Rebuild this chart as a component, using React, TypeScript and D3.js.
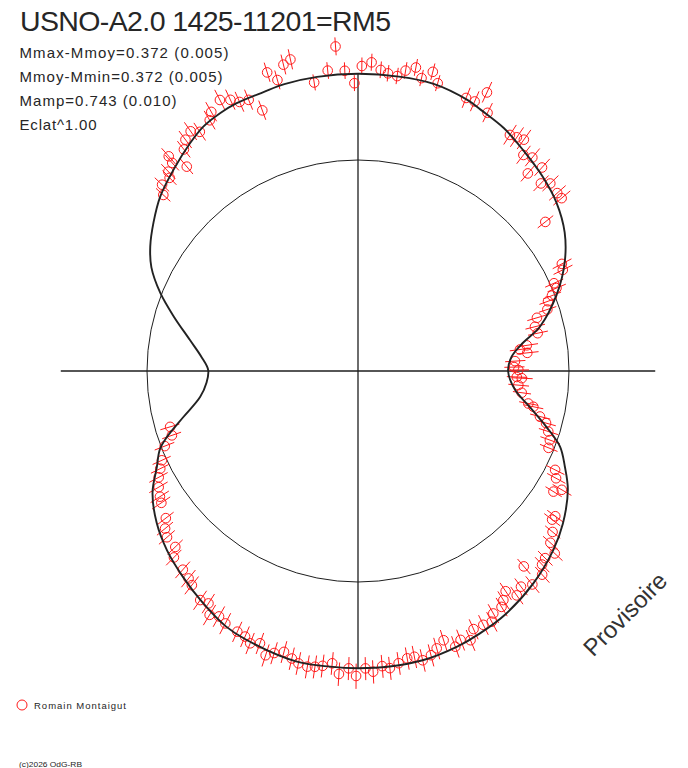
import * as d3 from 'd3'

const W = 688
const H = 768
const CX = 358
const CY = 371
const R_MEAN = 211 // radius of the Mmoy circle, px

// fitted light curve: phase, magnitude relative to Mmoy
const fitPhase = [0.000, 0.015, 0.027, 0.038, 0.059, 0.077, 0.094, 0.112, 0.129, 0.148, 0.164, 0.180, 0.189, 0.209, 0.228, 0.250, 0.272, 0.290, 0.302, 0.318, 0.328, 0.340, 0.351, 0.368, 0.385, 0.400, 0.414, 0.426, 0.440, 0.454, 0.471, 0.486, 0.499, 0.512, 0.526, 0.541, 0.553, 0.560, 0.571, 0.585, 0.603, 0.620, 0.638, 0.656, 0.674, 0.687, 0.717, 0.735, 0.750, 0.767, 0.785, 0.805, 0.819, 0.837, 0.860, 0.882, 0.898, 0.918, 0.931, 0.943, 0.954, 0.967, 0.981]
const fitMag = [0.370, 0.339, 0.251, 0.130, -0.013, -0.110, -0.179, -0.228, -0.260, -0.291, -0.320, -0.340, -0.354, -0.371, -0.372, -0.372, -0.371, -0.368, -0.362, -0.360, -0.354, -0.342, -0.319, -0.280, -0.242, -0.196, -0.150, -0.099, -0.009, 0.100, 0.229, 0.321, 0.372, 0.357, 0.300, 0.169, 0.046, -0.011, -0.060, -0.134, -0.194, -0.235, -0.269, -0.303, -0.336, -0.349, -0.371, -0.371, -0.372, -0.372, -0.369, -0.356, -0.343, -0.324, -0.289, -0.247, -0.208, -0.145, -0.084, -0.024, 0.076, 0.199, 0.313]

// observations (Romain Montaigut): phase, magnitude relative to Mmoy, error
const obsPhase = [0.001, 0.004, 0.010, 0.017, 0.021, 0.024, 0.033, 0.039, 0.046, 0.050, 0.056, 0.059, 0.063, 0.067, 0.073, 0.077, 0.107, 0.112, 0.116, 0.123, 0.127, 0.133, 0.137, 0.141, 0.146, 0.151, 0.155, 0.159, 0.176, 0.181, 0.185, 0.190, 0.207, 0.211, 0.216, 0.220, 0.225, 0.229, 0.234, 0.238, 0.243, 0.248, 0.252, 0.257, 0.261, 0.266, 0.274, 0.284, 0.288, 0.293, 0.297, 0.306, 0.311, 0.316, 0.320, 0.325, 0.332, 0.335, 0.343, 0.347, 0.352, 0.356, 0.361, 0.365, 0.366, 0.371, 0.373, 0.379, 0.383, 0.546, 0.553, 0.559, 0.568, 0.573, 0.578, 0.584, 0.590, 0.594, 0.604, 0.609, 0.614, 0.622, 0.626, 0.635, 0.641, 0.645, 0.654, 0.659, 0.663, 0.668, 0.673, 0.681, 0.686, 0.690, 0.695, 0.700, 0.704, 0.709, 0.714, 0.718, 0.723, 0.727, 0.731, 0.736, 0.740, 0.745, 0.749, 0.754, 0.758, 0.763, 0.767, 0.772, 0.777, 0.781, 0.785, 0.790, 0.794, 0.799, 0.804, 0.808, 0.813, 0.817, 0.823, 0.828, 0.831, 0.837, 0.840, 0.844, 0.848, 0.853, 0.859, 0.862, 0.867, 0.871, 0.875, 0.881, 0.884, 0.890, 0.896, 0.899, 0.912, 0.916, 0.921, 0.926, 0.939, 0.945, 0.951, 0.957, 0.961, 0.968, 0.970, 0.979, 0.986, 0.993, 0.994]
const obsMag = [0.298, 0.327, 0.319, 0.233, 0.278, 0.230, 0.151, 0.158, 0.133, 0.063, 0.045, 0.015, -0.021, -0.019, -0.086, -0.095, -0.137, -0.256, -0.256, -0.262, -0.235, -0.285, -0.229, -0.290, -0.276, -0.325, -0.317, -0.310, -0.341, -0.407, -0.359, -0.359, -0.377, -0.412, -0.381, -0.414, -0.397, -0.373, -0.379, -0.389, -0.414, -0.400, -0.337, -0.384, -0.470, -0.389, -0.352, -0.448, -0.436, -0.389, -0.425, -0.298, -0.354, -0.360, -0.381, -0.397, -0.374, -0.350, -0.333, -0.354, -0.340, -0.314, -0.254, -0.331, -0.303, -0.288, -0.267, -0.269, -0.237, 0.080, 0.075, 0.019, -0.023, -0.048, -0.074, -0.097, -0.115, -0.125, -0.149, -0.180, -0.198, -0.200, -0.235, -0.247, -0.259, -0.272, -0.300, -0.293, -0.328, -0.315, -0.327, -0.335, -0.340, -0.356, -0.343, -0.378, -0.361, -0.347, -0.364, -0.376, -0.382, -0.378, -0.371, -0.358, -0.395, -0.373, -0.400, -0.373, -0.386, -0.368, -0.378, -0.364, -0.351, -0.350, -0.369, -0.358, -0.339, -0.317, -0.354, -0.337, -0.352, -0.318, -0.319, -0.323, -0.298, -0.292, -0.273, -0.248, -0.287, -0.269, -0.290, -0.211, -0.286, -0.256, -0.246, -0.261, -0.218, -0.195, -0.160, -0.162, -0.092, -0.121, -0.071, -0.048, 0.029, 0.037, 0.060, 0.085, 0.128, 0.179, 0.213, 0.266, 0.294, 0.274, 0.308]
const obsErr = [0.07, 0.07, 0.07, 0.07, 0.07, 0.07, 0.06, 0.06, 0.06, 0.05, 0.05, 0.05, 0.05, 0.05, 0.05, 0.05, 0.045, 0.045, 0.045, 0.045, 0.045, 0.045, 0.045, 0.045, 0.045, 0.045, 0.045, 0.045, 0.04, 0.04, 0.04, 0.04, 0.03, 0.03, 0.03, 0.03, 0.03, 0.03, 0.03, 0.03, 0.03, 0.03, 0.03, 0.03, 0.03, 0.03, 0.03, 0.035, 0.035, 0.035, 0.035, 0.04, 0.04, 0.04, 0.04, 0.04, 0.04, 0.04, 0.04, 0.04, 0.04, 0.04, 0.04, 0.04, 0.04, 0.04, 0.04, 0.04, 0.04, 0.055, 0.055, 0.055, 0.05, 0.05, 0.05, 0.05, 0.05, 0.05, 0.045, 0.045, 0.045, 0.045, 0.045, 0.045, 0.045, 0.045, 0.045, 0.045, 0.045, 0.045, 0.045, 0.042, 0.042, 0.042, 0.042, 0.042, 0.042, 0.042, 0.042, 0.042, 0.042, 0.042, 0.042, 0.042, 0.042, 0.042, 0.045, 0.042, 0.042, 0.042, 0.042, 0.042, 0.042, 0.042, 0.042, 0.042, 0.042, 0.042, 0.042, 0.042, 0.042, 0.042, 0.042, 0.042, 0.042, 0.042, 0.042, 0.042, 0.042, 0.042, 0.042, 0.042, 0.042, 0.042, 0.042, 0.042, 0.042, 0.042, 0.045, 0.045, 0.045, 0.05, 0.05, 0.05, 0.05, 0.055, 0.055, 0.055, 0.06, 0.06, 0.06, 0.06, 0.07, 0.07, 0.07, 0.07]

const MAG_BRIGHT = -0.372 // Mmax-Mmoy, outermost radius

const title = 'USNO-A2.0 1425-11201=RM5'
const statLines = ['Mmax-Mmoy=0.372 (0.005)', 'Mmoy-Mmin=0.372 (0.005)', 'Mamp=0.743 (0.010)', 'Eclat^1.00']
const statWidths = [209, 203, 157, 77]
const observer = 'Romain Montaigut'
const credit = '(c)2026 OdG-RB'
const stamp = 'Provisoire'

const FONT = "Arial, 'Liberation Sans', Helvetica, sans-serif"
const RED = '#ff1a1a'
const INK = '#1e1e1e'

// radius is proportional to flux (Eclat^1.00)
const flux = d3.scaleLinear().domain([0, 1]).range([0, R_MEAN])
const radius = (dm: number) => flux(Math.pow(10, -0.4 * dm))
// phase 0 on the right, counter-clockwise (lineRadial angles are clockwise from 12 o'clock)
const angle = d3.scaleLinear().domain([0, 1]).range([Math.PI / 2, Math.PI / 2 - 2 * Math.PI])

export default function App() {
  const rAxis = radius(MAG_BRIGHT)
  const fitLine = d3.lineRadial<number>()
    .angle(i => angle(fitPhase[i]))
    .radius(i => radius(fitMag[i]))
    .curve(d3.curveCatmullRomClosed.alpha(0.5))
  const fitPath = fitLine(d3.range(fitPhase.length)) ?? ''

  const obs = obsPhase.map((p, i) => {
    const a = angle(p)
    const [x, y] = d3.pointRadial(a, radius(obsMag[i]))
    const [x1, y1] = d3.pointRadial(a, radius(obsMag[i] + obsErr[i]))
    const [x2, y2] = d3.pointRadial(a, radius(obsMag[i] - obsErr[i]))
    return { x, y, x1, y1, x2, y2 }
  })

  return (
    <svg width={W} height={H} style={{ position: 'absolute', left: 0, top: 0, background: '#fff' }} fontFamily={FONT}>
      <rect width={W} height={H} fill="#fff" />

      <text x={20} y={31} fontSize={28.5} fill="#262626" textLength={371} lengthAdjust="spacing">{title}</text>
      {statLines.map((s, i) => (
        <text key={s} x={19.5} y={57.5 + i * 24.3} fontSize={15} fill="#262626" textLength={statWidths[i]} lengthAdjust="spacing">{s}</text>
      ))}

      <g transform={`translate(${CX},${CY})`}>
        <line x1={-rAxis} x2={rAxis} y1={0} y2={0} stroke={INK} strokeWidth={1.3} />
        <line x1={0} x2={0} y1={-rAxis} y2={rAxis} stroke={INK} strokeWidth={1.3} />
        <circle r={radius(0)} fill="none" stroke={INK} strokeWidth={1} />

        <g stroke={RED} strokeWidth={1} fill="none">
          {obs.map((o, i) => (
            <g key={i}>
              <line x1={o.x1} y1={o.y1} x2={o.x2} y2={o.y2} />
              <circle cx={o.x} cy={o.y} r={4.8} />
            </g>
          ))}
        </g>

        <path d={fitPath} fill="none" stroke="#222" strokeWidth={1.9} strokeLinejoin="round" />
      </g>

      <text transform="translate(631,620) rotate(-45)" textAnchor="middle" fontSize={24} fill="#333">{stamp}</text>

      <circle cx={22} cy={705} r={5} fill="none" stroke={RED} strokeWidth={1} />
      <text x={34} y={708.5} fontSize={9.5} fill="#262626" textLength={92} lengthAdjust="spacing">{observer}</text>
      <text x={19} y={767} fontSize={7.5} fill="#262626" textLength={63} lengthAdjust="spacingAndGlyphs">{credit}</text>
    </svg>
  )
}
